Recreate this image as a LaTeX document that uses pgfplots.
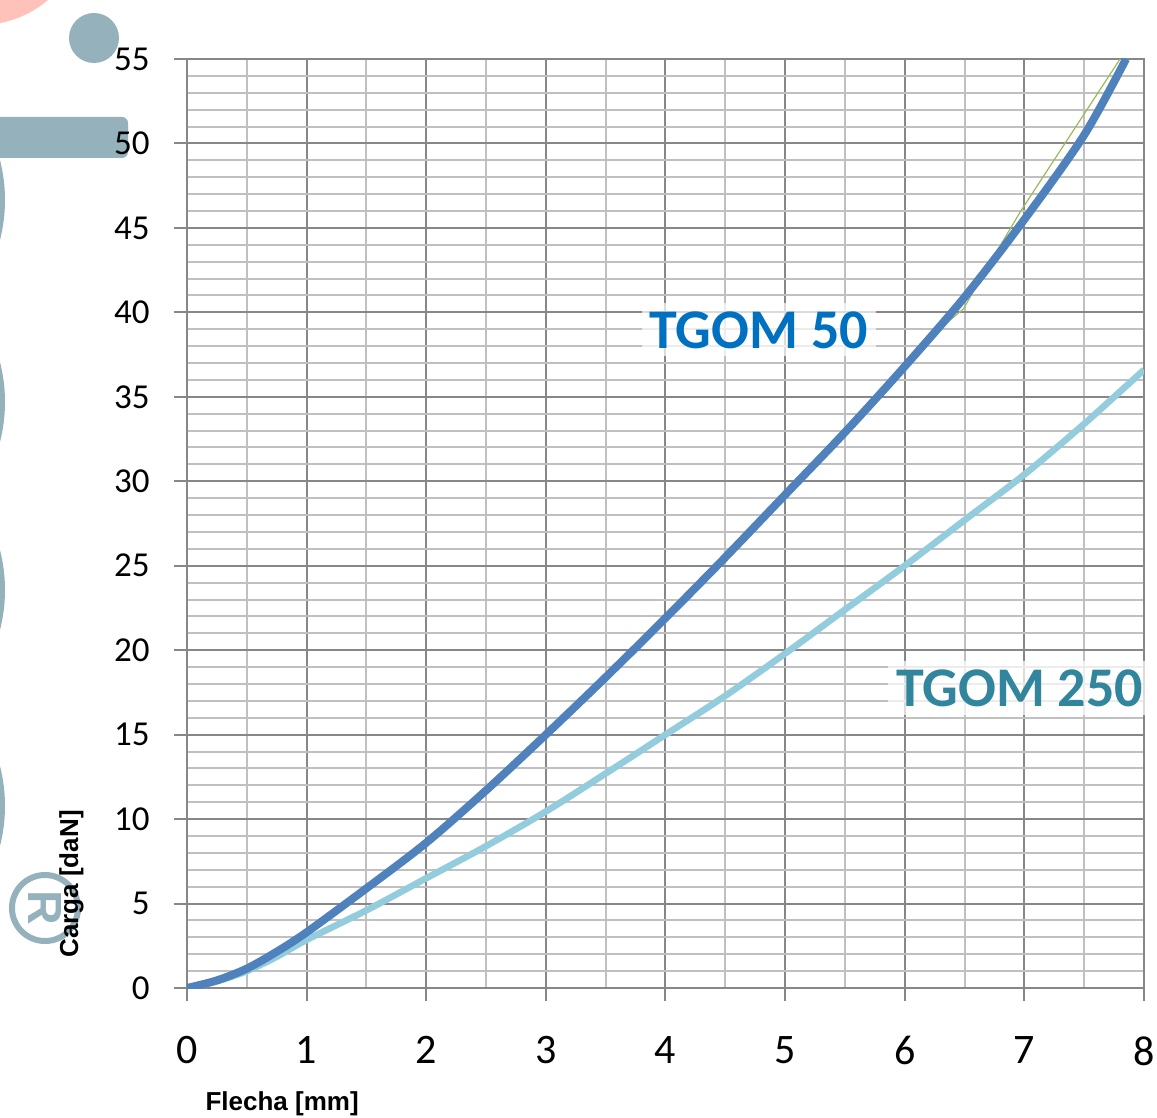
\documentclass[border=0pt]{standalone}
\usepackage{fontspec}
\setmainfont{Carlito}
\newfontfamily\arialfont{Liberation Sans}
\usepackage{pgfplots}
\pgfplotsset{compat=1.18}
\usetikzlibrary{calc}
\definecolor{darkblue}{HTML}{4F81BD}
\definecolor{lightblue}{HTML}{93CDDD}
\definecolor{lab50}{HTML}{0070C0}
\definecolor{lab250}{HTML}{31859C}
\definecolor{gmaj}{HTML}{878787}
\definecolor{gmin}{HTML}{C0C0C0}
\definecolor{deco}{HTML}{95B1BC}
\definecolor{pinkdeco}{HTML}{FFC2BA}
\definecolor{olivegreen}{HTML}{9BBB59}
\begin{document}
\begin{tikzpicture}
\useasboundingbox (0pt,0pt) rectangle (578.5pt,-559pt);
\begin{scope}[x=0.5pt,y=-0.5pt]
\fill[pinkdeco] (-20,-80) circle[radius=52.5pt];
\fill[deco] (94,38) circle[radius=12.5pt];
\fill[deco, rounded corners=3pt] (-20,117) rectangle (128,158);
\fill[deco] (-155,200) circle[radius=80pt];
\fill[deco] (-155,402) circle[radius=80pt];
\fill[deco] (-155,590) circle[radius=80pt];
\fill[deco] (-155,806) circle[radius=80pt];
\draw[deco, line width=3pt] (45,908) circle[radius=16.5pt];
\node[deco, rotate=-90, font=\arialfont\bfseries\fontsize{24pt}{24pt}\selectfont] at (45,908) {R};
\end{scope}
\begin{axis}[
  at={(93.5pt,-494pt)}, anchor=south west,
  scale only axis, width=478.5pt, height=464.5pt,
  xmin=0, xmax=8, ymin=0, ymax=55,
  xtick={0,...,8}, ytick={0,5,...,55},
  minor x tick num=1, minor y tick num=4,
  grid=both,
  major grid style={gmaj, line width=1pt},
  minor grid style={gmin, line width=1pt},
  axis line style={gmaj, line width=1pt},
  tick style={gmaj, line width=1pt},
  tick align=outside, xtick pos=left, ytick pos=left,
  major tick length=6.5pt, minor tick length=0pt,
  clip mode=individual,
  /pgf/number format/assume math mode=true,
  yticklabel style={font=\fontsize{17.5pt}{17.5pt}\selectfont, anchor=east, inner sep=0pt, xshift=-12pt},
  xticklabel style={font=\fontsize{21pt}{21pt}\selectfont, anchor=north, inner sep=0pt, yshift=-17.5pt},
  xlabel={Flecha [mm]},
  xlabel style={at={($(rel axis cs:0.019,0)+(0pt,-58pt)$)}, anchor=west, inner sep=0pt, font=\arialfont\bfseries\fontsize{13pt}{13pt}\selectfont},
  ylabel={Carga [daN]},
  ylabel style={at={($(rel axis cs:0,0.112)+(-51.5pt,0pt)$)}, anchor=south, inner sep=0pt, font=\arialfont\bfseries\fontsize{13pt}{13pt}\selectfont},
]
\addplot[lightblue, line width=3.3pt, smooth] coordinates {
(0,0) (0.25,0.4) (0.5,1.0) (0.75,1.85) (1,2.85) (1.5,4.6) (2,6.5) (2.5,8.4) (3,10.45) (3.5,12.7) (4,15.0) (4.5,17.3) (5,19.8) (5.5,22.4) (6,25.0) (6.5,27.7) (7,30.4) (7.5,33.4) (8,36.6)};
\addplot[olivegreen, line width=0.6pt] coordinates {
(6.27,38.9) (6.49,40.2) (6.66,42.3) (6.97,46.0) (7.80,55.0)};
\addplot[darkblue, line width=4pt, smooth] coordinates {
(0,0) (0.25,0.45) (0.5,1.15) (0.75,2.15) (1,3.3) (1.5,5.9) (2,8.6) (2.5,11.7) (3,15.0) (3.5,18.4) (4,21.9) (4.5,25.5) (5,29.2) (5.5,32.9) (6,36.8) (6.5,40.9) (7,45.5) (7.5,50.5) (7.85,55)};
\node[fill=white, fill opacity=0.7, text opacity=1, text=lab50, inner sep=4pt, font=\bfseries\fontsize{28pt}{28pt}\selectfont] at (axis cs:4.78,38.96) {TGOM 50};
\node[fill=white, fill opacity=0.7, text opacity=1, text=lab250, inner sep=4pt, font=\bfseries\fontsize{28pt}{28pt}\selectfont] at (axis cs:6.96,17.76) {TGOM 250};
\end{axis}
\end{tikzpicture}
\end{document}
